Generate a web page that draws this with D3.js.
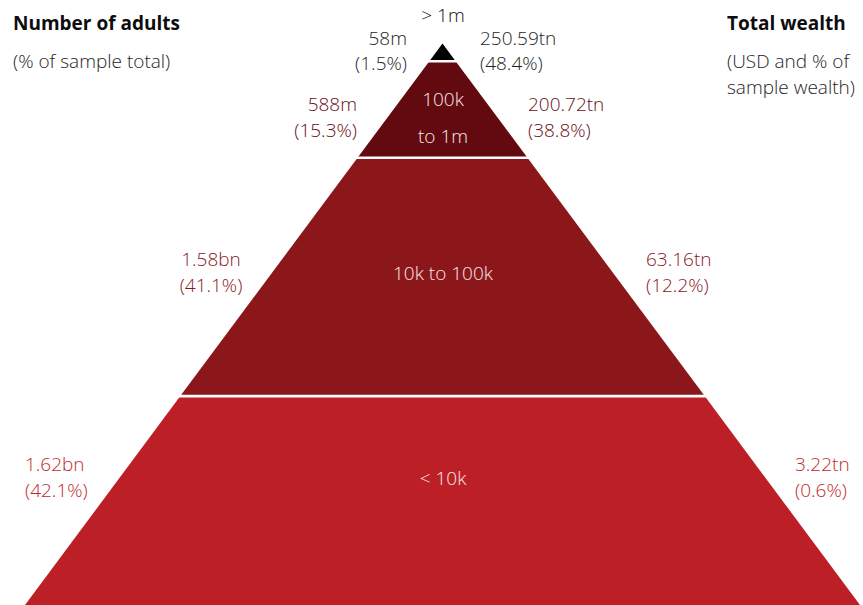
<!DOCTYPE html>
<html>
<head>
<meta charset="utf-8">
<script src="https://cdn.jsdelivr.net/npm/d3@7"></script>
<style>
  html, body { margin: 0; padding: 0; background: #fff; }
  svg { display: block; font-family: "Open Sans", "Noto Sans", sans-serif; }
</style>
</head>
<body>
<svg id="chart" width="863" height="605"></svg>
<script>
// ---- data ----
const bandLines   = [["> 1m"], ["100k", "to 1m"], ["10k to 100k"], ["< 10k"]];
const adults      = ["58m", "588m", "1.58bn", "1.62bn"];
const adultsPct   = [1.5, 15.3, 41.1, 42.1];
const wealth      = ["250.59tn", "200.72tn", "63.16tn", "3.22tn"];
const wealthPct   = [48.4, 38.8, 12.2, 0.6];
const leftTitle   = ["Number of adults", "(% of sample total)"];
const rightTitle  = ["Total wealth", "(USD and % of", "sample wealth)"];

// ---- layout ----
const fills      = ["#000000", "#620a10", "#8b171b", "#bc2026"];
const labelCols  = ["#1e1e1e", "#680f15", "#85191e", "#c0282e"];
const edges      = [0, 0.0315, 0.2035, 0.628, 1];   // band boundaries, fraction of pyramid height
const apexX = 442.5, apexY = 43.5, baseY = 605, baseHalf = 417.5;

const svg = d3.select("#chart");
const y = d3.scaleLinear().domain([0, 1]).range([apexY, baseY]);
const half = d3.scaleLinear().domain([0, 1]).range([0, baseHalf]);

// bands
const g = svg.append("g");
g.selectAll("path.band")
  .data(d3.range(4))
  .join("path")
  .attr("class", "band")
  .attr("fill", i => fills[i])
  .attr("d", i => {
    const t0 = edges[i], t1 = edges[i + 1];
    const pts = [
      [apexX - half(t0), y(t0)], [apexX + half(t0), y(t0)],
      [apexX + half(t1), y(t1)], [apexX - half(t1), y(t1)]
    ];
    return d3.line()(pts) + "Z";
  });

// white separators
g.selectAll("line.sep")
  .data(edges.slice(1, 4))
  .join("line")
  .attr("x1", t => apexX - half(t) - 3)
  .attr("x2", t => apexX + half(t) + 3)
  .attr("y1", t => y(t))
  .attr("y2", t => y(t))
  .attr("stroke", "#fff")
  .attr("stroke-width", 2.6);

const fs = 19;
function addText(x, yy, txt, opts = {}) {
  return svg.append("text")
    .attr("x", x).attr("y", yy)
    .attr("font-size", opts.size || fs)
    .attr("font-weight", opts.weight || 300)
    .attr("fill", opts.fill || "#1e1e1e")
    .attr("text-anchor", opts.anchor || "start")
    .text(txt);
}

// titles
addText(13, 30, leftTitle[0], {weight: 700, fill: "#0d0d0d"});
addText(13, 68, leftTitle[1]);
addText(727, 30, rightTitle[0], {weight: 700, fill: "#0d0d0d"});
addText(727, 68, rightTitle[1]);
addText(727, 94, rightTitle[2]);

// band names
const nameFill = ["#111111", "#f7e6e6", "#f7e6e6", "#f7e6e6"];
const nameY = [[21.5], [106, 143], [280], [485]];
bandLines.forEach((lines, i) => {
  lines.forEach((ln, j) => addText(443, nameY[i][j], ln, {anchor: "middle", fill: nameFill[i]}));
});

// side labels
const leftPos  = [[407, "end"], [357, "end"], [211, "middle"], [25, "start"]];
const rightPos = [480, 528, 646, 795];
const labY = [[45, 70], [111, 136.5], [266, 292], [471, 497]];
const pct = d3.format(".1f");
adults.forEach((a, i) => {
  addText(leftPos[i][0], labY[i][0], a, {anchor: leftPos[i][1], fill: labelCols[i]});
  addText(leftPos[i][0], labY[i][1], "(" + pct(adultsPct[i]) + "%)", {anchor: leftPos[i][1], fill: labelCols[i]});
});
wealth.forEach((w, i) => {
  addText(rightPos[i], labY[i][0], w, {fill: labelCols[i]});
  addText(rightPos[i], labY[i][1], "(" + pct(wealthPct[i]) + "%)", {fill: labelCols[i]});
});
</script>
</body>
</html>
